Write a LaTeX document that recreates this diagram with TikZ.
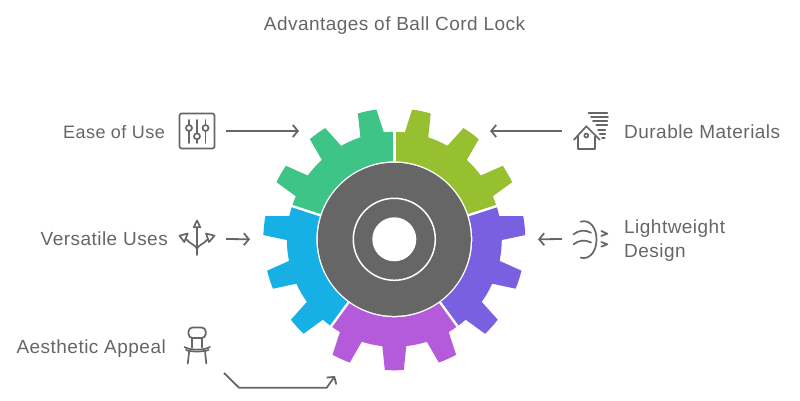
\documentclass[tikz,border=0pt]{standalone}
\usepackage{fontspec}
\setmainfont[LetterSpace=2.5]{Liberation Sans}
\usetikzlibrary{arrows.meta,positioning}
\definecolor{inkgray}{HTML}{666666}
\definecolor{gearolive}{HTML}{96C02F}
\definecolor{gearviolet}{HTML}{7860E0}
\definecolor{gearmagenta}{HTML}{B45BDC}
\definecolor{gearblue}{HTML}{16B0E4}
\definecolor{geargreen}{HTML}{3EC486}
\tikzset{
	caption/.style={text=inkgray,font=\fontsize{19}{24}\selectfont,inner sep=0pt},
	iconspot/.style={minimum size=36pt,inner sep=0pt,outer sep=11pt},
	icon/.style={draw=inkgray,line width=1.7pt,line cap=round,line join=round},
	link/.style={draw=inkgray,line width=1.8pt,-{Straight Barb[length=5pt,width=12pt]}}
}
\begin{document}
\begin{tikzpicture}[x=1pt,y=1pt]
	\useasboundingbox (0,0) rectangle (800,-401);
	\node[caption,anchor=base] (title) at (394.5,-31) {Advantages of Ball Cord Lock};
	% gear segments
	\begin{scope}[shift={(394.3,-239.3)}]
		\foreach \base/\col in {18/gearolive,90/geargreen,162/gearblue,234/gearmagenta,306/gearviolet} {
			\fill[\col] (\base:78) -- (\base:107.5)
				\foreach \t/\gap in {12/5.6,36/11.2,60/11.2} {
					arc[start angle=\base+\t-\gap-6.4,delta angle=\gap,radius=107.5]
					-- (\base+\t-4.15:131)
					arc[start angle=\base+\t-4.15,delta angle=8.3,radius=131]
					-- (\base+\t+6.4:107.5)
				}
				arc[start angle=\base+66.4,delta angle=5.6,radius=107.5]
				-- (\base+72:78)
				arc[start angle=\base+72,delta angle=-72,radius=78] -- cycle;
		}
		\foreach \base in {18,90,162,234,306} {
			\draw[white,line width=2.4pt] (\base:76) -- (\base:110);
		}
		\fill[inkgray] (0,0) circle (76.5);
		\draw[white,line width=1.5pt] (0,0) circle (41);
		\fill[white] (0,0) circle (22);
		\coordinate (gearease) at (-95.3,108.3);
		\coordinate (geardurable) at (95.7,108.3);
		\coordinate (gearversatile) at (-144.3,0);
		\coordinate (gearlight) at (143.7,0);
		\coordinate (gearaesthetic) at (-59.3,-136.7);
	\end{scope}
	% left side
	\node[iconspot] (sliders) at (197,-131) {};
	\node[iconspot] (split) at (197,-239) {};
	\node[iconspot,outer sep=9pt] (chair) at (197,-346) {};
	\node[caption,anchor=base east,font=\fontsize{18}{24}\selectfont] (ease) at (165,-138.3) {Ease of Use};
	\node[caption,anchor=base east] (versatile) at (168,-245.3) {Versatile Uses};
	\node[caption,anchor=base east] (aesthetic) at (166,-353.3) {Aesthetic Appeal};
	% right side
	\node[iconspot] (house) at (591,-131) {};
	\node[iconspot] (wind) at (591,-239) {};
	\node[caption,anchor=base west] (durable) at (624,-138.3) {Durable Materials};
	\node[caption,anchor=west,align=left] (light) at (624,-240.5) {Lightweight\\Design};
	% connectors
	\draw[link] (sliders.east) -- (gearease);
	\draw[link] (house.west) -- (geardurable);
	\draw[link] (split.east) -- (gearversatile);
	\draw[link] (wind.west) -- (gearlight);
	\draw[link] (chair.south east) -- (239,-387.7) -- (326.7,-387.7) -- (gearaesthetic);
	% sliders icon
	\draw[icon,rounded corners=1.5pt] (179.5,-113.5) rectangle (214.5,-148.5);
	\foreach \x/\y in {189/-128,197/-136.3,205.5/-128} {
		\draw[icon] (\x,-120) -- (\x,-143);
		\draw[icon,fill=white] (\x,\y) circle (3);
	}
	% split arrows icon
	\draw[icon] (197,-227.5) -- (197,-255);
	\draw[icon] (197,-249) .. controls (196,-245) and (190,-244) .. (186,-239);
	\draw[icon] (197,-249) .. controls (198,-245) and (204,-244) .. (208,-239);
	\draw[icon] (197,-220.5) -- (193.7,-227.3) -- (200.3,-227.3) -- cycle;
	\draw[icon] (179.5,-235.7) -- (187.7,-233.5) -- (184.3,-242) -- cycle;
	\draw[icon] (214.5,-235.7) -- (206,-233.5) -- (209,-242) -- cycle;
	% chair icon
	\draw[icon,rounded corners=4pt] (188.5,-338) rectangle (205.7,-327.5);
	\draw[icon] (192.3,-338) -- (192.3,-347.5);
	\draw[icon] (201.7,-338) -- (201.7,-347.5);
	\draw[icon] (184.5,-347) .. controls (190,-350.5) and (204,-350.5) .. (210,-347);
	\draw[icon] (186,-350) .. controls (191,-352) and (203,-352) .. (208.5,-350);
	\draw[icon] (189.2,-351) -- (187.8,-363.5);
	\draw[icon] (205,-351) -- (206.3,-363.5);
	% house and storm icon
	\draw[icon] (574,-139.7) -- (586.3,-126.3) -- (599.7,-139.7);
	\draw[icon] (578,-136.5) -- (578,-148.7) -- (595.3,-148.7) -- (595.3,-136.5);
	\draw[icon] (586.3,-135.5) circle (2);
	\foreach \a/\b/\y in {588.5/607.3/-113,591/608/-117.3,593/607.3/-121.3,596.3/607.3/-125.3,598/605.3/-129.7,599.7/605.3/-134,602/604.7/-138} {
		\draw[icon] (\a,\y) -- (\b,\y);
	}
	% wind icon
	\draw[icon] (580.7,-221.7) .. controls (590,-219) and (596.5,-228) .. (596.5,-239.5) .. controls (596.5,-251) and (590,-260) .. (580.7,-257.7);
	\draw[icon] (573.5,-234.3) .. controls (579,-230) and (585,-229.5) .. (591,-232.7);
	\draw[icon] (573.5,-244.3) .. controls (579,-240) and (585,-239.5) .. (591,-242.5);
	\draw[icon] (601.3,-231) -- (607.3,-233.7) -- (601.3,-236);
	\draw[icon] (601.3,-242) -- (607.3,-244.3) -- (601.3,-246.7);
\end{tikzpicture}
\end{document}
